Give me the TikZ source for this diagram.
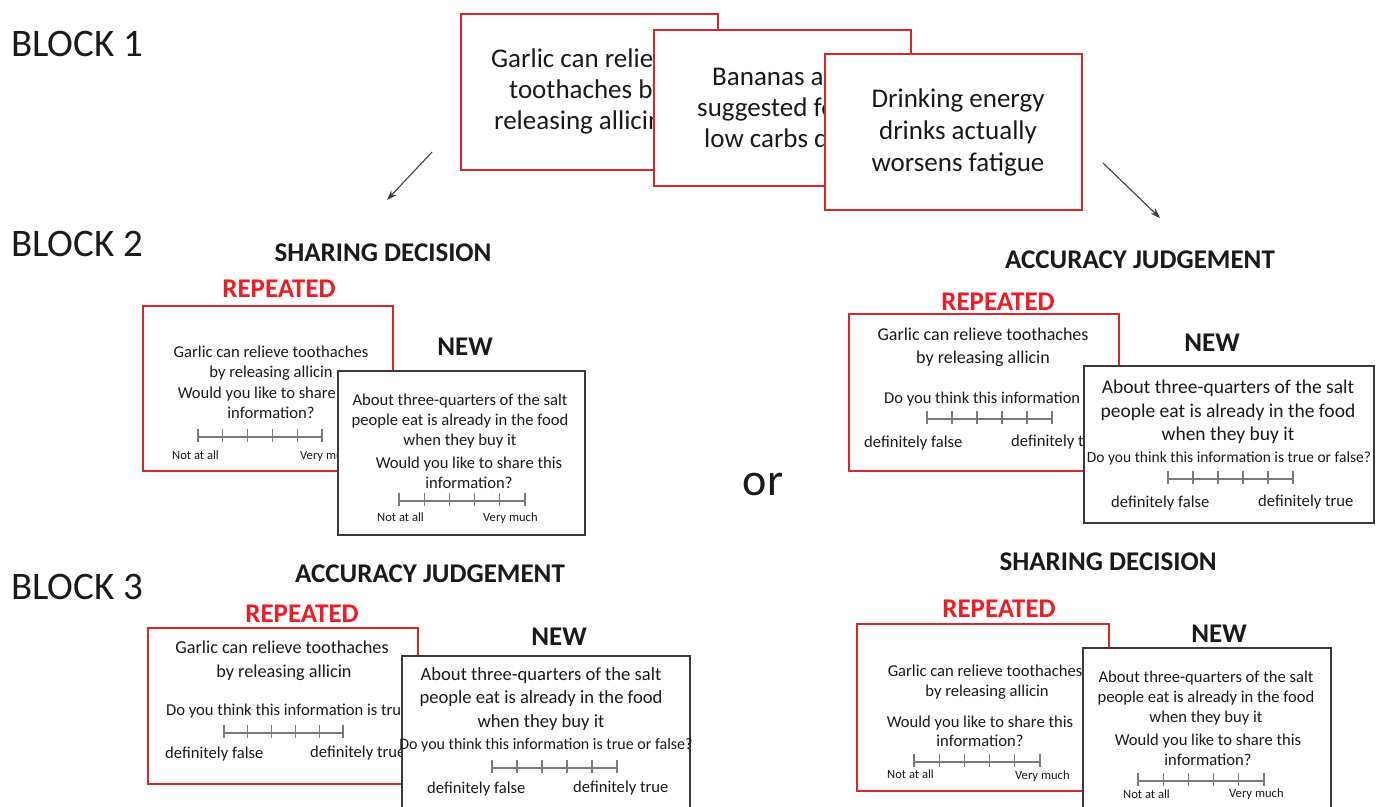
\documentclass[tikz,border=0pt]{standalone}
\usepackage{fontspec}
\setmainfont{Carlito}
\usetikzlibrary{arrows.meta}
\definecolor{cardred}{HTML}{D9262C}
\definecolor{labred}{HTML}{EE1C25}
\definecolor{cardgray}{HTML}{3A3A3A}
\definecolor{ink}{HTML}{1A1A1A}
\definecolor{scalegray}{HTML}{7A7A7A}
\newcommand{\fsz}[1]{\fontsize{#1}{#1}\selectfont}
\newcommand{\tline}[5][]{\node[txt,anchor=base,#1] (#2) at (#3,#4) {#5};}
\newcommand{\likert}[3]{%
  \draw[scaleln] (#1,#3) -- (#2,#3);
  \foreach \k in {0,...,5} {\draw[scaleln] ({#1+\k*(#2-#1)/5},{#3-8}) -- ({#1+\k*(#2-#1)/5},{#3+5});}%
}
\begin{document}
\begin{tikzpicture}[x=1pt,y=-1pt,
  txt/.style={inner sep=0pt, text=ink, font=\fsz{16.6}},
  blocklbl/.style={txt, anchor=base west, font=\fsz{39}},
  head/.style={txt, font=\bfseries\fsz{27}},
  rep/.style={head, text=labred},
  big/.style={txt, font=\fsz{27}},
  small/.style={txt, font=\fsz{12.6}},
  redcard/.style={draw=cardred, line width=2pt, fill=white, inner sep=0pt, anchor=north west},
  graycard/.style={draw=cardgray, line width=2pt, fill=white, inner sep=0pt, anchor=north west},
  scaleln/.style={draw=scalegray, line width=1.2pt},
  arr/.style={-{Stealth[length=10pt,width=7pt]}, line width=1.1pt, draw=ink!85}]
\useasboundingbox (0,0) rectangle (1378,806);
\clip (0,0) rectangle (1378,806);
\fill[white] (0,0) rectangle (1378,806);

% block labels
\node[blocklbl] (b1) at (11,56) {BLOCK 1};
\node[blocklbl] (b2) at (11,256) {BLOCK 2};
\node[blocklbl] (b3) at (11,599) {BLOCK 3};

% top cards
\node[redcard, minimum width=257, minimum height=156] (cA) at (460,13) {};
\tline[big,anchor=base west]{cA1}{491}{67}{Garlic can relieve}
\tline[big,anchor=base west]{cA2}{509}{98}{toothaches by}
\tline[big,anchor=base west]{cA3}{494}{129}{releasing allicin}
\node[redcard, minimum width=257, minimum height=156] (cB) at (653,29) {};
\tline[big,anchor=base west]{cB1}{712}{85}{Bananas are}
\tline[big,anchor=base west]{cB2}{697}{116}{suggested for}
\tline[big,anchor=base west]{cB3}{704}{147}{low carbs diets}
\node[redcard, minimum width=257, minimum height=156] (cC) at (824,53) {};
\tline[big]{cC1}{958}{107}{Drinking energy}
\tline[big]{cC2}{958}{139}{drinks actually}
\tline[big]{cC3}{958}{171}{worsens fatigue}

% arrows
\coordinate (aL1) at (432,152);
\coordinate (aL2) at (387,200);
\coordinate (aR1) at (1103,163);
\coordinate (aR2) at (1160,218);
\draw[arr] (aL1) -- (aL2);
\draw[arr] (aR1) -- (aR2);

% ===== Block 2 left: sharing decision
\tline[head]{h2L}{383}{261}{SHARING DECISION}
\tline[rep]{r2L}{279}{297}{REPEATED}
\node[redcard, minimum width=250, minimum height=165] (c2Lr) at (142,305) {};
\tline{t2L1}{271}{357}{Garlic can relieve toothaches}
\tline{t2L2}{271}{377}{by releasing allicin}
\tline{t2L3}{271}{398}{Would you like to share this}
\tline{t2L4}{271}{418}{information?}
\likert{198}{322}{437}
\tline[small,anchor=base west]{t2L5}{172}{459}{Not at all}
\tline[small,anchor=base west]{t2L6}{300}{459}{Very much}
\tline[head]{n2L}{465}{355}{NEW}
\node[graycard, minimum width=247, minimum height=164] (c2Lg) at (337,370) {};
\tline{u2L1}{460}{405}{About three-quarters of the salt}
\tline{u2L2}{460}{425}{people eat is already in the food}
\tline{u2L3}{460}{445}{when they buy it}
\tline{u2L4}{469}{468}{Would you like to share this}
\tline{u2L5}{469}{488}{information?}
\likert{399}{525}{501}
\tline[small,anchor=base west]{u2L6}{377}{521}{Not at all}
\tline[small,anchor=base west]{u2L7}{483}{521}{Very much}

% ===== Block 2 right: accuracy judgement
\tline[head]{h2R}{1140}{268}{ACCURACY JUDGEMENT}
\tline[rep]{r2R}{998}{310}{REPEATED}
\node[redcard, minimum width=270, minimum height=157] (c2Rr) at (848,313) {};
\tline[font=\fsz{18}]{t2R1}{983}{340}{Garlic can relieve toothaches}
\tline[font=\fsz{18}]{t2R2}{983}{363}{by releasing allicin}
\tline[font=\fsz{16.5},anchor=base west]{t2R3}{884}{403}{Do you think this information is}
\likert{927}{1052}{419}
\tline[anchor=base west]{t2R4}{864}{447}{definitely false}
\tline[anchor=base west]{t2R5}{1011}{446}{definitely true}
\tline[head]{n2R}{1212}{351}{NEW}
\node[graycard, minimum width=290, minimum height=157] (c2Rg) at (1083,365) {};
\tline[font=\fsz{19.5}]{u2R1}{1228}{393}{About three-quarters of the salt}
\tline[font=\fsz{19.5}]{u2R2}{1228}{417}{people eat is already in the food}
\tline[font=\fsz{19.5}]{u2R3}{1228}{440}{when they buy it}
\tline[font=\fsz{15.5}]{u2R4}{1229}{462}{Do you think this information is true or false?}
\likert{1168}{1293}{479}
\tline[anchor=base west]{u2R5}{1111}{507}{definitely false}
\tline[anchor=base west]{u2R6}{1258}{506}{definitely true}

% or
\node[txt, anchor=base, font=\fsz{46}] (or) at (763,495) {or};

% ===== Block 3 left: accuracy judgement
\tline[head]{h3L}{430}{582}{ACCURACY JUDGEMENT}
\tline[rep]{r3L}{302}{622}{REPEATED}
\node[redcard, minimum width=270, minimum height=156] (c3Lr) at (147,627) {};
\tline[font=\fsz{18.2}]{t3L1}{282}{653}{Garlic can relieve toothaches}
\tline[font=\fsz{18.2}]{t3L2}{284}{677}{by releasing allicin}
\tline[anchor=base west]{t3L3}{166}{715}{Do you think this information is true or false?}
\likert{224}{343}{733}
\tline[anchor=base west]{t3L4}{165}{758}{definitely false}
\tline[anchor=base west]{t3L5}{310}{757}{definitely true}
\tline[head]{n3L}{559}{645}{NEW}
\node[graycard, minimum width=288, minimum height=170] (c3Lg) at (401,655) {};
\tline[font=\fsz{18.6}]{u3L1}{541}{680}{About three-quarters of the salt}
\tline[font=\fsz{18.6}]{u3L2}{541}{703}{people eat is already in the food}
\tline[font=\fsz{18.6}]{u3L3}{541}{727}{when they buy it}
\tline[font=\fsz{16}]{u3L4}{546}{749}{Do you think this information is true or false?}
\likert{492}{617}{768}
\tline[anchor=base west]{u3L5}{427}{793}{definitely false}
\tline[anchor=base west]{u3L6}{573}{792}{definitely true}

% ===== Block 3 right: sharing decision
\tline[head]{h3R}{1108}{570}{SHARING DECISION}
\tline[rep]{r3R}{999}{617}{REPEATED}
\node[redcard, minimum width=252, minimum height=167] (c3Rr) at (856,623) {};
\tline{t3R1}{985}{676}{Garlic can relieve toothaches}
\tline{t3R2}{987}{696}{by releasing allicin}
\tline{t3R3}{980}{727}{Would you like to share this}
\tline{t3R4}{980}{746}{information?}
\likert{914}{1040}{762}
\tline[small,anchor=base west]{t3R5}{887}{778}{Not at all}
\tline[small,anchor=base west]{t3R6}{1015}{779}{Very much}
\tline[head]{n3R}{1219}{642}{NEW}
\node[graycard, minimum width=248, minimum height=170] (c3Rg) at (1082,647) {};
\tline{u3R1}{1206}{682}{About three-quarters of the salt}
\tline{u3R2}{1206}{702}{people eat is already in the food}
\tline{u3R3}{1206}{722}{when they buy it}
\tline{u3R4}{1208}{745}{Would you like to share this}
\tline{u3R5}{1208}{765}{information?}
\likert{1138}{1264}{781}
\tline[small,anchor=base west]{u3R6}{1123}{798}{Not at all}
\tline[small,anchor=base west]{u3R7}{1229}{797}{Very much}
\end{tikzpicture}
\end{document}
